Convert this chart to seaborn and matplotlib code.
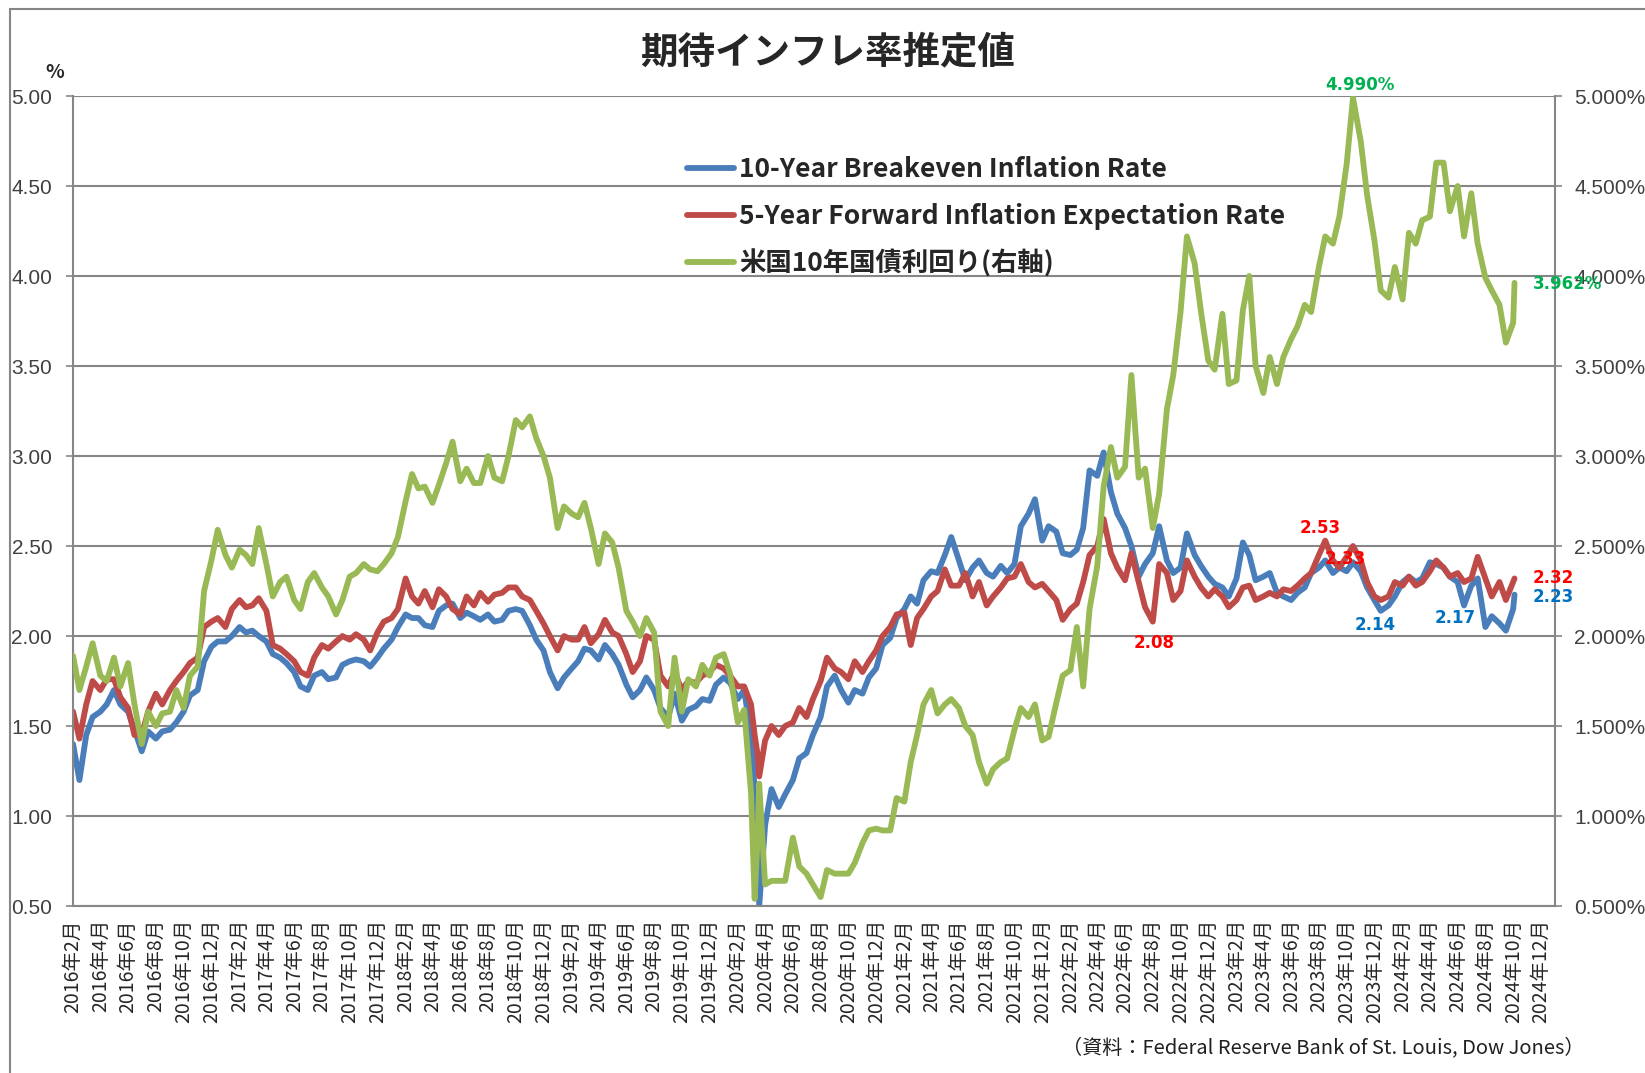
# 期待インフレ率推定値 - breakeven / 5y5y forward / US 10y yield

import pandas as pd
import matplotlib
matplotlib.use("Agg")
import matplotlib.pyplot as plt
from matplotlib.lines import Line2D
from matplotlib import font_manager
import seaborn as sns

# ---------------------------------------------
# Data (semi-monthly reads off the chart, plus a few dates around the 2020 crash)
# ---------------------------------------------
extra_dates = ["2020-03-09", "2020-03-19", "2024-10-04"]

# 10-Year Breakeven Inflation Rate (%)
bei = [
    1.40, 1.20, 1.45, 1.55, 1.58, 1.62, 1.70, 1.62, 1.58, 1.48, 1.36, 1.47, 1.43, 1.47, 1.48, 1.52, 1.58, 1.67, 1.70, 1.86, 1.94, 1.97,  # 2016
    1.97, 2.00, 2.05, 2.02, 2.03, 2.00, 1.97, 1.90, 1.88, 1.85, 1.80, 1.72, 1.70, 1.78, 1.80, 1.76, 1.77, 1.84, 1.86, 1.87, 1.86, 1.83, 1.88, 1.93,  # 2017
    1.98, 2.05, 2.12, 2.10, 2.10, 2.06, 2.05, 2.14, 2.17, 2.18, 2.10, 2.13, 2.11, 2.09, 2.12, 2.08, 2.09, 2.14, 2.15, 2.14, 2.06, 1.98, 1.92, 1.80,  # 2018
    1.71, 1.77, 1.82, 1.86, 1.93, 1.92, 1.87, 1.95, 1.90, 1.84, 1.73, 1.66, 1.70, 1.77, 1.70, 1.60, 1.55, 1.68, 1.53, 1.59, 1.61, 1.65, 1.64, 1.73,  # 2019
    1.77, 1.74, 1.65, 1.70, 1.45, 1.15, 0.90, 0.50, 0.95, 1.15, 1.05, 1.12, 1.20, 1.32, 1.35, 1.45, 1.55, 1.72, 1.78, 1.70, 1.63, 1.70, 1.68, 1.77, 1.82, 1.95,  # 2020
    1.99, 2.10, 2.15, 2.22, 2.18, 2.31, 2.36, 2.35, 2.45, 2.55, 2.42, 2.31, 2.38, 2.42, 2.35, 2.33, 2.39, 2.35, 2.40, 2.61, 2.68, 2.76, 2.53, 2.61,  # 2021
    2.58, 2.46, 2.45, 2.48, 2.60, 2.92, 2.89, 3.02, 2.80, 2.68, 2.60, 2.50, 2.33, 2.40, 2.46, 2.61, 2.42, 2.35, 2.38, 2.57, 2.45, 2.39, 2.33, 2.29,  # 2022
    2.27, 2.22, 2.32, 2.52, 2.45, 2.31, 2.33, 2.35, 2.24, 2.22, 2.20, 2.24, 2.27, 2.35, 2.38, 2.42, 2.35, 2.38, 2.36, 2.41, 2.36, 2.27, 2.20, 2.14,  # 2023
    2.17, 2.22, 2.30, 2.33, 2.30, 2.32, 2.41, 2.40, 2.38, 2.33, 2.30, 2.17, 2.28, 2.32, 2.05, 2.11, 2.07, 2.03, 2.15, 2.23,  # 2024
]

# 5-Year Forward Inflation Expectation Rate (%)
fwd = [
    1.58, 1.43, 1.62, 1.75, 1.70, 1.76, 1.76, 1.66, 1.60, 1.45, 1.45, 1.58, 1.68, 1.62, 1.70, 1.75, 1.80, 1.85, 1.88, 2.05, 2.08, 2.10,  # 2016
    2.05, 2.15, 2.20, 2.16, 2.17, 2.21, 2.14, 1.95, 1.93, 1.90, 1.86, 1.80, 1.78, 1.88, 1.95, 1.93, 1.97, 2.00, 1.98, 2.01, 1.98, 1.92, 2.02, 2.08,  # 2017
    2.10, 2.15, 2.32, 2.22, 2.18, 2.25, 2.16, 2.26, 2.22, 2.15, 2.12, 2.22, 2.17, 2.24, 2.19, 2.23, 2.24, 2.27, 2.27, 2.22, 2.20, 2.14, 2.07, 2.00,  # 2018
    1.92, 2.00, 1.98, 1.98, 2.05, 1.96, 2.01, 2.09, 2.02, 2.00, 1.90, 1.80, 1.86, 2.00, 1.98, 1.78, 1.72, 1.80, 1.70, 1.75, 1.74, 1.78, 1.80, 1.84,  # 2019
    1.82, 1.78, 1.72, 1.72, 1.62, 1.45, 1.35, 1.22, 1.42, 1.50, 1.45, 1.50, 1.52, 1.60, 1.55, 1.65, 1.75, 1.88, 1.82, 1.80, 1.76, 1.86, 1.80, 1.86, 1.92, 2.00,  # 2020
    2.05, 2.12, 2.13, 1.95, 2.10, 2.15, 2.22, 2.25, 2.37, 2.28, 2.28, 2.35, 2.22, 2.30, 2.17, 2.22, 2.27, 2.32, 2.33, 2.40, 2.30, 2.27, 2.29, 2.25,  # 2021
    2.20, 2.09, 2.15, 2.18, 2.30, 2.45, 2.50, 2.65, 2.46, 2.38, 2.31, 2.46, 2.30, 2.16, 2.08, 2.40, 2.35, 2.20, 2.25, 2.42, 2.33, 2.27, 2.22, 2.26,  # 2022
    2.22, 2.16, 2.20, 2.27, 2.28, 2.20, 2.22, 2.24, 2.22, 2.26, 2.25, 2.28, 2.32, 2.35, 2.45, 2.53, 2.42, 2.38, 2.44, 2.50, 2.42, 2.30, 2.22, 2.20,  # 2023
    2.22, 2.30, 2.28, 2.33, 2.28, 2.30, 2.36, 2.42, 2.38, 2.33, 2.35, 2.30, 2.32, 2.44, 2.32, 2.22, 2.30, 2.20, 2.30, 2.32,  # 2024
]

# 米国10年国債利回り (%), right axis
ust = [
    1.89, 1.70, 1.83, 1.96, 1.78, 1.75, 1.88, 1.72, 1.85, 1.62, 1.40, 1.58, 1.50, 1.57, 1.58, 1.70, 1.60, 1.78, 1.83, 2.25, 2.42, 2.59,  # 2016
    2.45, 2.38, 2.48, 2.45, 2.40, 2.60, 2.40, 2.22, 2.30, 2.33, 2.20, 2.15, 2.30, 2.35, 2.27, 2.22, 2.12, 2.20, 2.33, 2.35, 2.40, 2.37, 2.36, 2.40,  # 2017
    2.46, 2.55, 2.75, 2.90, 2.82, 2.83, 2.74, 2.84, 2.96, 3.08, 2.86, 2.93, 2.85, 2.85, 3.00, 2.88, 2.86, 3.00, 3.20, 3.16, 3.22, 3.10, 3.00, 2.88,  # 2018
    2.60, 2.72, 2.68, 2.66, 2.74, 2.60, 2.40, 2.57, 2.52, 2.38, 2.14, 2.08, 2.00, 2.10, 2.02, 1.58, 1.50, 1.88, 1.58, 1.76, 1.72, 1.84, 1.78, 1.88,  # 2019
    1.90, 1.79, 1.52, 1.59, 1.13, 0.54, 0.85, 1.18, 0.62, 0.64, 0.64, 0.64, 0.88, 0.72, 0.68, 0.62, 0.55, 0.70, 0.68, 0.68, 0.68, 0.74, 0.85, 0.92, 0.93, 0.92,  # 2020
    0.92, 1.10, 1.08, 1.30, 1.45, 1.62, 1.70, 1.57, 1.62, 1.65, 1.60, 1.50, 1.45, 1.30, 1.18, 1.26, 1.30, 1.32, 1.48, 1.60, 1.55, 1.62, 1.42, 1.44,  # 2021
    1.63, 1.78, 1.81, 2.05, 1.72, 2.15, 2.39, 2.83, 3.05, 2.88, 2.94, 3.45, 2.88, 2.93, 2.60, 2.79, 3.26, 3.45, 3.80, 4.22, 4.07, 3.80, 3.53, 3.48,  # 2022
    3.79, 3.40, 3.42, 3.81, 4.00, 3.50, 3.35, 3.55, 3.40, 3.55, 3.65, 3.72, 3.84, 3.80, 4.05, 4.22, 4.18, 4.33, 4.62, 4.99, 4.75, 4.45, 4.20, 3.92,  # 2023
    3.88, 4.05, 3.87, 4.24, 4.18, 4.31, 4.33, 4.63, 4.63, 4.36, 4.50, 4.22, 4.46, 4.18, 3.99, 3.92, 3.84, 3.63, 3.74, 3.962,  # 2024
]

legend_labels = ["10-Year Breakeven Inflation Rate",
                 "5-Year Forward Inflation Expectation Rate",
                 "米国10年国債利回り(右軸)"]

# value call-outs written on the chart
note_texts = ["2.53", "2.33", "2.08", "2.14", "2.17"]
note_dates = ["2023-08-04", "2023-09-28", "2022-08-05", "2023-12-03", "2024-05-26"]
note_vals = [2.60, 2.43, 1.96, 2.06, 2.10]
note_colors = ["#FF0000", "#FF0000", "#FF0000", "#0070C0", "#0070C0"]

BLUE, RED, GREEN = "#4A7EBB", "#BE4B48", "#98B954"
GRID = "#868686"

dates = pd.date_range("2016-02-01", "2024-10-01", freq="SMS").append(pd.DatetimeIndex(extra_dates)).sort_values()
assert len(dates) == len(bei) == len(fwd) == len(ust), (len(dates), len(bei), len(fwd), len(ust))
df = pd.DataFrame({"date": dates, "bei": bei, "fwd": fwd, "ust": ust})

# ---------------------------------------------
# Fonts
# ---------------------------------------------
sns.set_style("white")
plt.rcParams['font.family'] = ['Noto Sans CJK JP', 'DejaVu Sans']
installed = {f.name for f in font_manager.fontManager.ttflist}
narrow = 'Liberation Sans Narrow' if 'Liberation Sans Narrow' in installed else 'Liberation Sans'

# ---------------------------------------------
# Plot
# ---------------------------------------------
fig = plt.figure(figsize=(16.45, 10.73), dpi=100)
ax = fig.add_axes([0.0444, 0.1556, 0.9009, 0.7549])
ax2 = ax.twinx()

sns.lineplot(data=df, x="date", y="bei", ax=ax, color=BLUE, lw=4.2, legend=False)
sns.lineplot(data=df, x="date", y="fwd", ax=ax, color=RED, lw=4.2, legend=False)
sns.lineplot(data=df, x="date", y="ust", ax=ax2, color=GREEN, lw=4.2, legend=False)

x0, x1 = pd.Timestamp("2016-02-01"), pd.Timestamp("2025-01-01")
for a in (ax, ax2):
    a.set_ylim(0.5, 5.0)
    a.set_xlim(x0, x1)
    a.set_xlabel("")
    a.set_ylabel("")

yt = [0.5 + 0.5 * i for i in range(10)]
ax.set_yticks(yt)
ax.set_yticklabels([f"{v:.2f}" for v in yt], fontfamily=narrow, fontsize=15, color="#404040")
ax2.set_yticks(yt)
ax2.set_yticklabels([f"{v:.3f}%" for v in yt], fontfamily=narrow, fontsize=15, color="#404040")

xt = pd.date_range("2016-02-01", "2024-12-01", freq="2MS")
ax.set_xticks(xt)
ax.set_xticklabels([f"{d.year}年{d.month}月" for d in xt], rotation=90, fontsize=14)

ax.yaxis.grid(True, color=GRID, lw=1.5)
ax.xaxis.grid(False)
ax.set_axisbelow(True)

for a in (ax, ax2):
    for s in a.spines.values():
        s.set_visible(False)
ax.spines['left'].set_visible(True)
ax.spines['left'].set_color(GRID)
ax.spines['left'].set_linewidth(1.5)
ax.spines['bottom'].set_visible(True)
ax.spines['bottom'].set_color(GRID)
ax.spines['bottom'].set_linewidth(1.5)
ax2.spines['right'].set_visible(True)
ax2.spines['right'].set_color(GRID)
ax2.spines['right'].set_linewidth(1.5)

ax.tick_params(axis='y', length=5, width=1.2, color=GRID, pad=10)
ax.tick_params(axis='x', length=6.5, width=1.2, color=GRID, pad=3)
ax2.tick_params(axis='y', length=5, width=1.2, color=GRID, pad=9)

# legend
handles = [ax.get_lines()[0], ax.get_lines()[1], ax2.get_lines()[0]]
ax2.legend(handles, legend_labels, loc='upper left', bbox_to_anchor=(0.414, 0.926),
           frameon=False, handlelength=1.8, handletextpad=0.2, labelspacing=0.75,
           borderpad=0, borderaxespad=0,
           prop={'family': ['Noto Sans CJK JP'], 'weight': 'bold', 'size': 19})

# call-outs
lbl = dict(fontsize=12, fontweight='bold', family='DejaVu Sans')
imax = df["ust"].idxmax()
ax2.annotate(f"{df['ust'][imax]:.3f}%", xy=(df['date'][imax], df['ust'][imax]), xytext=(5, 3),
             textcoords='offset points', ha='center', va='bottom', color='#00B050', **lbl)
last = df.iloc[-1]
ax2.annotate(f"{last['ust']:.3f}%", xy=(last['date'], last['ust']), xytext=(13, -1),
             textcoords='offset points', ha='left', va='center', color='#00B050', annotation_clip=False, **lbl)
ax2.annotate(f"{last['fwd']:.2f}", xy=(last['date'], last['fwd']), xytext=(13, 0),
             textcoords='offset points', ha='left', va='center', color='#FF0000', annotation_clip=False, **lbl)
ax2.annotate(f"{last['bei']:.2f}", xy=(last['date'], last['bei']), xytext=(13, -2),
             textcoords='offset points', ha='left', va='center', color='#0070C0', annotation_clip=False, **lbl)
for t, d, v, c in zip(note_texts, note_dates, note_vals, note_colors):
    ax2.text(pd.Timestamp(d), v, t, ha='center', va='center', color=c, zorder=10, **lbl)

# titles and source
fig.text(0.503, 0.9515, "期待インフレ率推定値", ha='center', va='center', fontsize=27, fontweight='bold')
fig.text(55 / 1645, 1 - 72 / 1073, "%", ha='center', va='center', fontsize=14, fontweight='bold')
fig.text(1584 / 1645, 1 - 1048 / 1073, "（資料：Federal Reserve Bank of St. Louis, Dow Jones）",
         ha='right', va='center', fontsize=14.5, color='#202020')

# chart-area frame (left and top edges visible in the crop)
fig.add_artist(Line2D([10 / 1645, 10 / 1645], [0, 1 - 9 / 1073], transform=fig.transFigure, color=GRID, lw=1.5))
fig.add_artist(Line2D([10 / 1645, 1], [1 - 9 / 1073, 1 - 9 / 1073], transform=fig.transFigure, color=GRID, lw=1.5))

fig.savefig("out.png", dpi=100)
